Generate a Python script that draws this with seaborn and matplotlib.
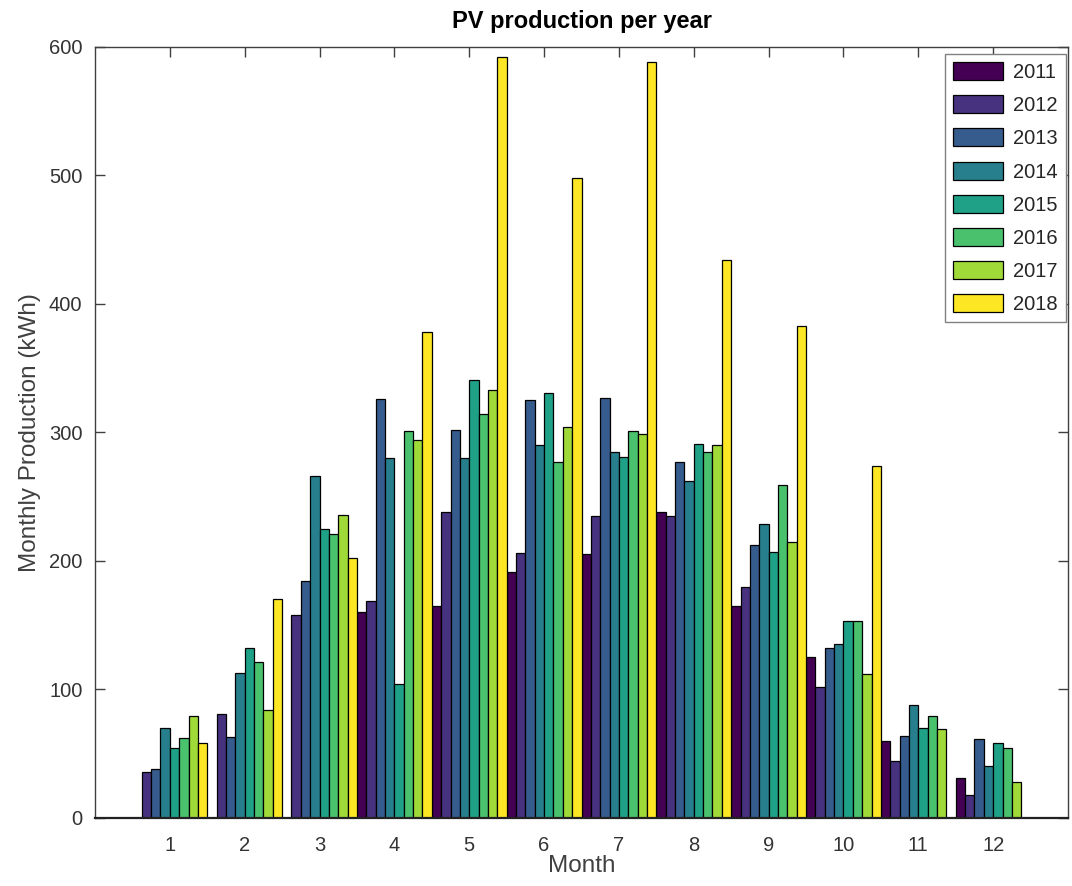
import numpy as np
import pandas as pd
import matplotlib
matplotlib.use('Agg')
import matplotlib.pyplot as plt
import seaborn as sns

nan = np.nan

months = [1, 2, 3, 4, 5, 6, 7, 8, 9, 10, 11, 12]
years = ['2011', '2012', '2013', '2014', '2015', '2016', '2017', '2018']

# monthly production (kWh); nan = no data
prod_2011 = [nan, nan, nan, 160, 165, 191, 205, 238, 165, 125, 60, 31]
prod_2012 = [36, 81, 158, 169, 238, 206, 235, 235, 180, 102, 44, 18]
prod_2013 = [38, 63, 184, 326, 302, 325, 327, 277, 212, 132, 64, 61]
prod_2014 = [70, 113, 266, 280, 280, 290, 285, 262, 229, 135, 88, 40]
prod_2015 = [54, 132, 225, 104, 341, 331, 281, 291, 207, 153, 70, 58]
prod_2016 = [62, 121, 221, 301, 314, 277, 301, 285, 259, 153, 79, 54]
prod_2017 = [79, 84, 236, 294, 333, 304, 299, 290, 215, 112, 69, 28]
prod_2018 = [58, 170, 202, 378, 592, 498, 588, 434, 383, 274, nan, nan]

series = [prod_2011, prod_2012, prod_2013, prod_2014,
          prod_2015, prod_2016, prod_2017, prod_2018]

frames = []
for year, values in zip(years, series):
    frames.append(pd.DataFrame({'month': months, 'kwh': values, 'year': year}))
df = pd.concat(frames, ignore_index=True)

# viridis with both endpoints, like MATLAB's viridis(8)
palette = [plt.cm.viridis(v) for v in np.linspace(0, 1, len(years))]

sns.set_theme(style='white')
plt.rcParams['font.family'] = ['Liberation Sans', 'DejaVu Sans']

fig, ax = plt.subplots(figsize=(10.72, 8.86), dpi=100)
fig.subplots_adjust(left=0.0886, right=0.9963, top=0.947, bottom=0.077)

sns.barplot(data=df, x='month', y='kwh', hue='year', hue_order=years,
            order=months, palette=palette, width=1.0, gap=0, saturation=1,
            errorbar=None, edgecolor='black', linewidth=0.9, ax=ax)

ax.set_xlim(-1, 12)
ax.set_ylim(0, 600)
ax.set_yticks(range(0, 601, 100))

ax.set_title('PV production per year', fontsize=17, fontweight='bold',
             color='black', pad=14)
ax.set_xlabel('Month', fontsize=17.5, color='#404040', labelpad=0)
ax.set_ylabel('Monthly Production (kWh)', fontsize=17.5, color='#404040',
              labelpad=6)

ax.tick_params(axis='x', bottom=False, top=True, direction='in', length=7,
               width=1, color='#404040', labelsize=14.5, labelcolor='#333333',
               pad=13)
ax.tick_params(axis='y', left=True, right=True, direction='in', length=7,
               width=1, color='#404040', labelsize=14.5, labelcolor='#333333',
               pad=9)

for side in ['left', 'right', 'top', 'bottom']:
    ax.spines[side].set_visible(True)
    ax.spines[side].set_color('#404040')
    ax.spines[side].set_linewidth(1.0)
ax.spines['bottom'].set_linewidth(1.6)
ax.spines['bottom'].set_color('#222222')

sns.move_legend(ax, 'upper right', bbox_to_anchor=(1066 / 1072, 1 - 54 / 886),
                bbox_transform=fig.transFigure, title=None, frameon=True,
                fancybox=False, framealpha=1, edgecolor='#808080',
                fontsize=14.5, handlelength=2.5, handleheight=1.0,
                labelspacing=0.66, handletextpad=0.5, borderpad=0.4,
                borderaxespad=0)

plt.savefig('out.png', dpi=100)
